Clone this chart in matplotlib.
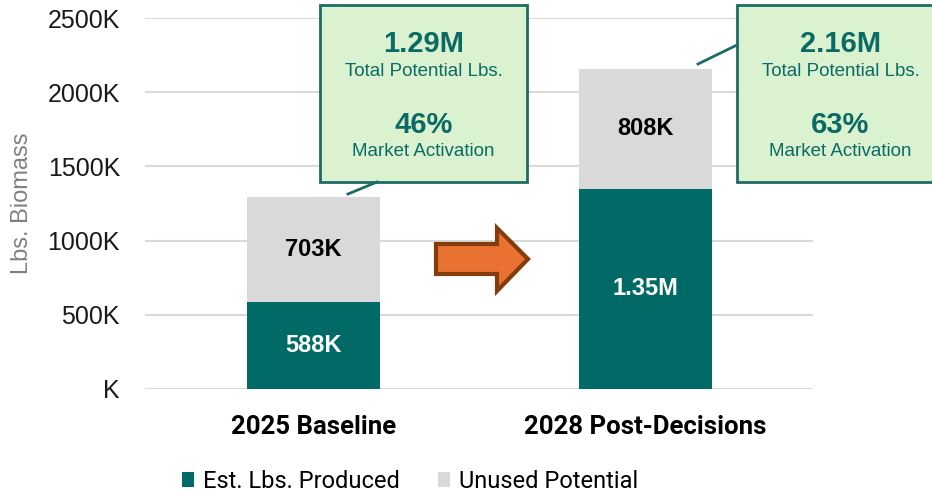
import matplotlib
matplotlib.use("Agg")
import matplotlib.pyplot as plt
from matplotlib.patches import Rectangle, Polygon
from matplotlib.lines import Line2D
from matplotlib.ticker import FuncFormatter, MultipleLocator
import numpy as np

# ---- data (thousands of lbs) ----
categories = ["2025 Baseline", "2028 Post-Decisions"]
produced = [588, 1350]
unused = [703, 808]
produced_labels = ["588K", "1.35M"]
unused_labels = ["703K", "808K"]
total_labels = ["1.29M", "2.16M"]
activation_labels = ["46%", "63%"]
series_names = ["Est. Lbs. Produced", "Unused Potential"]

TEAL = "#026A66"
GRAY = "#D9D9D9"
TXT_TEAL = "#0B6A64"
BOX_FILL = "#DAF2D0"
BOX_EDGE = "#1E6B66"

W, H = 932, 493
fig = plt.figure(figsize=(W / 100, H / 100), dpi=100)
ax = fig.add_axes([145 / W, 1 - 389 / H, (813 - 145) / W, (389 - 18) / H])

x = np.arange(len(categories))
bw = 0.40
ax.bar(x, produced, width=bw, color=TEAL, zorder=3, label=series_names[0])
ax.bar(x, unused, width=bw, bottom=produced, color=GRAY, zorder=3, label=series_names[1])

for i in range(len(categories)):
    ax.text(x[i], produced[i] / 2, produced_labels[i], ha="center", va="center",
            color="white", fontsize=17, fontweight="bold", family="Liberation Sans", zorder=4)
    ax.text(x[i], produced[i] + unused[i] / 2, unused_labels[i], ha="center", va="center",
            color="black", fontsize=17, fontweight="bold", family="Liberation Sans", zorder=4)

ax.set_ylim(0, 2500)
ax.set_xlim(-0.507, 1.505)
ax.yaxis.set_major_locator(MultipleLocator(500))
ax.yaxis.set_major_formatter(FuncFormatter(lambda v, p: f"{int(v)}K" if v else "K"))
ax.grid(axis="y", color="#D9D9D9", linewidth=1.5, zorder=0)
for s in ax.spines.values():
    s.set_visible(False)
ax.tick_params(axis="y", length=0, pad=18, labelsize=18, labelcolor="#1a1a1a")
for lab in ax.get_yticklabels():
    lab.set_family("Liberation Sans")
ax.set_xticks(x)
ax.set_xticklabels(categories, fontsize=18.5, fontweight="bold", family="Roboto")
ax.tick_params(axis="x", length=0, pad=19)
ax.set_ylabel("Lbs. Biomass", fontsize=17, color="#808080", family="Liberation Sans")
ax.yaxis.set_label_coords(-0.168, 0.5)

# legend
handles, labels = ax.get_legend_handles_labels()
fig.legend(handles, labels, loc="center", bbox_to_anchor=(0.44, 0.024), ncol=2,
           frameon=False, handlelength=0.5, handleheight=0.6, handletextpad=0.38,
           columnspacing=1.65, prop={"family": "Roboto", "size": 17})

# callout boxes
box_x = [320, 737]
box_w = 207
for i in range(len(categories)):
    x0 = box_x[i] / W
    rect = Rectangle((x0, 1 - 182 / H), box_w / W, 177 / H, transform=fig.transFigure,
                     facecolor=BOX_FILL, edgecolor=BOX_EDGE, linewidth=2, clip_on=False, zorder=5)
    fig.add_artist(rect)
    cx = (box_x[i] + box_w / 2) / W
    fig.text(cx, 1 - 44 / H, total_labels[i], ha="center", va="center", fontsize=21,
             fontweight="bold", color=TXT_TEAL, family="Liberation Sans", zorder=6)
    fig.text(cx, 1 - 72 / H, "Total Potential Lbs.", ha="center", va="center", fontsize=13.5,
             color=TXT_TEAL, family="Liberation Sans", zorder=6)
    fig.text(cx, 1 - 125 / H, activation_labels[i], ha="center", va="center", fontsize=21,
             fontweight="bold", color=TXT_TEAL, family="Liberation Sans", zorder=6)
    fig.text(cx, 1 - 151 / H, "Market Activation", ha="center", va="center", fontsize=13.5,
             color=TXT_TEAL, family="Liberation Sans", zorder=6)

# leader lines
leaders = [((377, 182), (348, 194)), ((737, 45), (698, 64))]
for (p0, p1) in leaders:
    fig.add_artist(Line2D([p0[0] / W, p1[0] / W], [1 - p0[1] / H, 1 - p1[1] / H],
                          transform=fig.transFigure, color=BOX_EDGE, linewidth=2, zorder=5))

# arrow
arrow_px = [(436, 244), (497, 244), (497, 228), (528, 259), (497, 291), (497, 274), (436, 274)]
arrow = Polygon([(px / W, 1 - py / H) for px, py in arrow_px], closed=True,
                transform=fig.transFigure, facecolor="#E97132", edgecolor="#843C0C",
                linewidth=3, joinstyle="miter", zorder=5)
fig.add_artist(arrow)

fig.savefig("out.png", dpi=100)
